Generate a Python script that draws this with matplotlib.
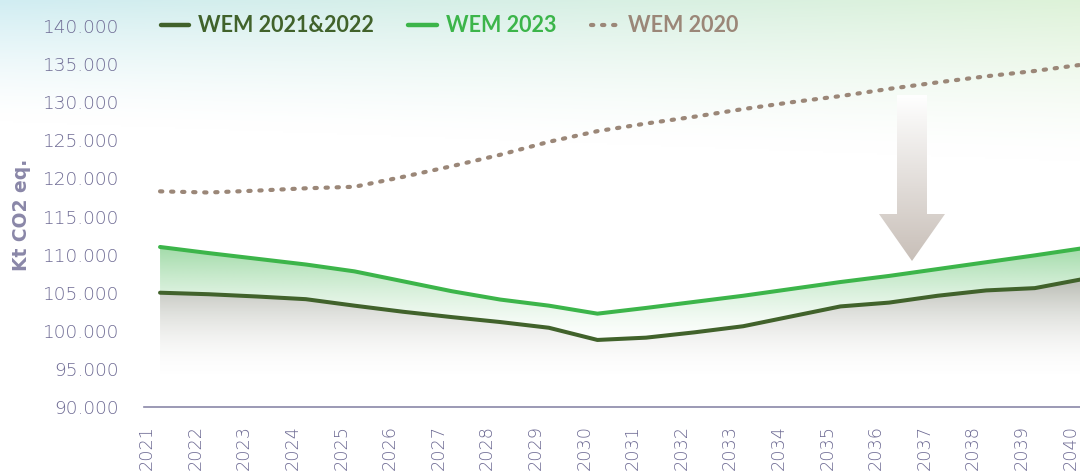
import numpy as np
import matplotlib
matplotlib.use('Agg')
import matplotlib.pyplot as plt
from matplotlib.patches import Polygon
from matplotlib.ticker import FuncFormatter

# ---------------- data ----------------
years = [str(y) for y in range(2021, 2041)]
wem_2021_2022 = [105000, 104800, 104500, 104150, 103300, 102500, 101800, 101150, 100400, 98800,
                 99100, 99800, 100600, 101900, 103200, 103700, 104600, 105300, 105600, 106800]
wem_2023 = [111000, 110200, 109450, 108700, 107800, 106500, 105200, 104100, 103300, 102250,
            103000, 103800, 104600, 105500, 106400, 107200, 108100, 109000, 109900, 110850]
wem_2020 = [118300, 118150, 118400, 118700, 118900, 120200, 121600, 123100, 124800, 126200,
            127200, 128100, 129100, 130000, 130800, 131750, 132600, 133400, 134100, 134950]
y_ticks = list(range(90000, 140001, 5000))
series_labels = ["WEM 2021&2022", "WEM 2023", "WEM 2020"]

# ---------------- style ----------------
plt.rcParams['font.family'] = ['Lato', 'DejaVu Sans']
TICK_FONT = ['DejaVu Sans']
C_DARK = '#41622b'
C_GREEN = '#3cb54a'
C_BROWN = '#9b8778'
C_AXIS = '#8a87a8'
C_TICK = '#6e6b94'
W, H = 1080, 472

fig = plt.figure(figsize=(W / 100, H / 100), dpi=100)

# background (pixel coordinates)
bg = fig.add_axes([0, 0, 1, 1], zorder=0)
bg.set_xlim(0, W); bg.set_ylim(H, 0); bg.axis('off')
xx = np.linspace(0, 1, 200)[None, :]
yy = np.linspace(0, H, 236)[:, None]
c_left = np.array([0.82, 0.93, 0.95])
c_right = np.array([0.87, 0.95, 0.85])
base = c_left[None, None, :] * (1 - xx[..., None]) + c_right[None, None, :] * xx[..., None]
depth = 120 + 40 * xx
a = np.clip(1 - yy / depth, 0, 1) ** 1.4
img = base * a[..., None] + (1 - a[..., None])
bg.imshow(img, extent=[0, W, H, 0], aspect='auto', interpolation='bilinear')

# main axes
x0_px, x1_px, ytop_px, ybot_px = 144, 1080, 26, 407
ax = fig.add_axes([x0_px / W, 1 - ybot_px / H, (x1_px - x0_px) / W, (ybot_px - ytop_px) / H], zorder=1)
ax.patch.set_alpha(0)
xs = np.arange(len(years))
xl0, xl1 = -0.33, 18.93
ax.set_xlim(xl0, xl1)
ax.set_ylim(90000, 140000)

# gradient fill between green and dark green lines
band = ax.fill_between(xs, wem_2021_2022, wem_2023, facecolor='none', edgecolor='none')
vals = np.linspace(140000, 90000, 400)[:, None]
g = np.clip((vals - 98000) / 13000, 0, 1.2) ** 1.5
rgba = np.zeros((400, 2, 4))
rgba[..., :3] = np.array([0x3c, 0xb4, 0x4b]) / 255
rgba[..., 3] = np.clip(0.48 * g, 0, 0.6)
im = ax.imshow(rgba, extent=[xl0, xl1, 90000, 140000], aspect='auto', interpolation='bilinear', zorder=1)
im.set_clip_path(band.get_paths()[0], ax.transData)

# gray gradient below dark line
under = ax.fill_between(xs, 90000, wem_2021_2022, facecolor='none', edgecolor='none')
g2 = np.clip((vals - 93000) / 13800, 0, 1.2) ** 2
rgba2 = np.zeros((400, 2, 4))
rgba2[..., :3] = np.array([0.45, 0.47, 0.40])
rgba2[..., 3] = np.clip(0.5 * g2, 0, 0.6)
im2 = ax.imshow(rgba2, extent=[xl0, xl1, 90000, 140000], aspect='auto', interpolation='bilinear', zorder=1)
im2.set_clip_path(under.get_paths()[0], ax.transData)

ax.plot(xs, wem_2020, color=C_BROWN, lw=3.0, linestyle=(0, (0.55, 2.1)),
        dash_capstyle='round', zorder=3)
ax.plot(xs, wem_2023, color=C_GREEN, lw=2.9, solid_capstyle='round', zorder=4)
ax.plot(xs, wem_2021_2022, color=C_DARK, lw=2.9, solid_capstyle='round', zorder=4)

for s in ['top', 'right', 'left']:
    ax.spines[s].set_visible(False)
ax.spines['bottom'].set_color(C_AXIS)
ax.spines['bottom'].set_linewidth(1.2)

ax.set_yticks(y_ticks)
ax.yaxis.set_major_formatter(FuncFormatter(lambda v, p: f"{v:,.0f}".replace(',', '.')))
ax.tick_params(axis='y', length=0, pad=18, labelsize=13.3, labelcolor=C_TICK)
ax.set_xticks(xs - 0.27)
ax.set_xticklabels(years, rotation=90)
ax.tick_params(axis='x', length=0, pad=13, labelsize=12.8, labelcolor=C_TICK)
for lab in ax.get_yticklabels() + ax.get_xticklabels():
    lab.set_family(TICK_FONT)
    lab.set_fontweight('light')

# overlay (pixel coordinates)
ov = fig.add_axes([0, 0, 1, 1], zorder=2)
ov.set_xlim(0, W); ov.set_ylim(H, 0); ov.axis('off'); ov.patch.set_alpha(0)

ov.text(22, 215, 'Kt CO2 eq.', rotation=90, ha='center', va='center',
        fontsize=13.5, fontweight='bold', color=C_AXIS, family=['DejaVu Sans'])

ly = 25
LFS = 15.5
ov.plot([161, 189], [ly, ly], color=C_DARK, lw=3.2, solid_capstyle='round')
ov.text(198, ly, series_labels[0], ha='left', va='center', fontsize=LFS, fontweight='bold', color=C_DARK)
ov.plot([408, 437], [ly, ly], color=C_GREEN, lw=3.2, solid_capstyle='round')
ov.text(446, ly, series_labels[1], ha='left', va='center', fontsize=LFS, fontweight='bold', color=C_GREEN)
ov.plot([591, 618], [ly, ly], color=C_BROWN, lw=3.0, linestyle=(0, (0.55, 2.1)), dash_capstyle='round')
ov.text(628, ly, series_labels[2], ha='left', va='center', fontsize=LFS, fontweight='bold', color=C_BROWN)

# arrow with gradient
arrow_pts = [(897, 95), (927, 95), (927, 214), (945, 214), (912, 261), (879, 214), (897, 214)]
poly = Polygon(arrow_pts, closed=True, facecolor='none', edgecolor='none')
ov.add_patch(poly)
t = np.linspace(0, 1, 200)[:, None]
top_c = np.array([1.0, 1.0, 1.0]); bot_c = np.array([0xc8, 0xbf, 0xb8]) / 255
grad = top_c[None, None, :] * (1 - t[..., None]) + bot_c[None, None, :] * t[..., None]
grad = np.repeat(grad, 2, axis=1)
aim = ov.imshow(grad, extent=[879, 945, 261, 95], aspect='auto', interpolation='bilinear')
aim.set_clip_path(poly)
ov.set_xlim(0, W); ov.set_ylim(H, 0)

fig.savefig('out.png', dpi=100)
